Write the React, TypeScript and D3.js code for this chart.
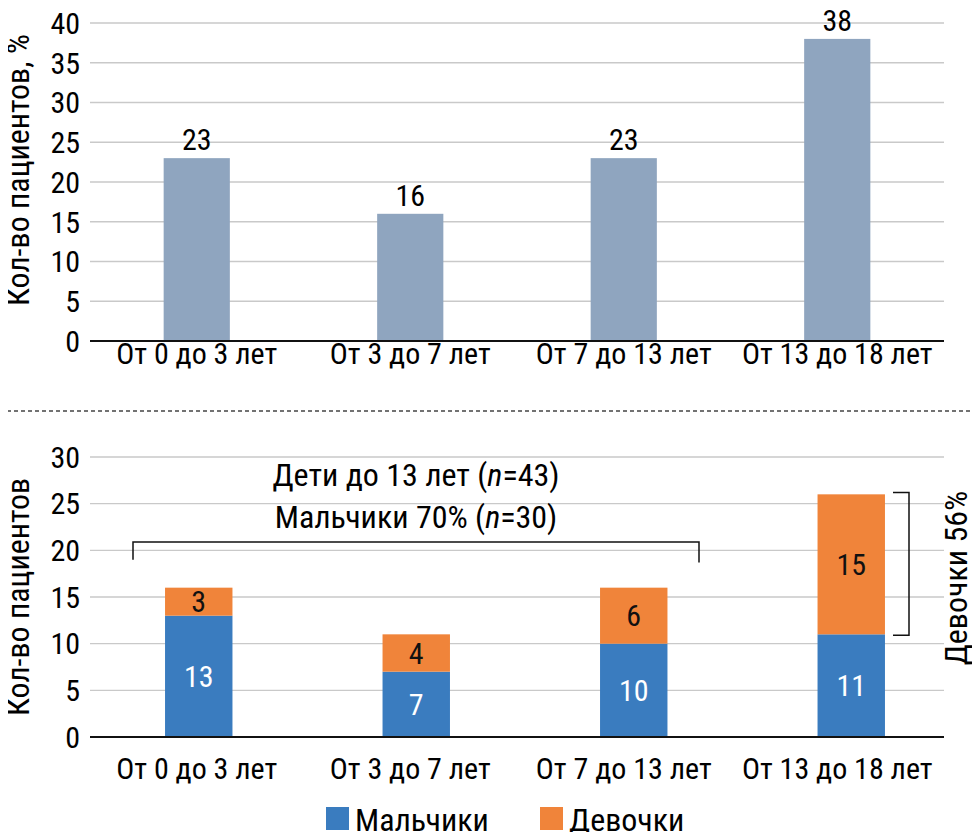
import * as d3 from "d3";

const categories = ["От 0 до 3 лет", "От 3 до 7 лет", "От 7 до 13 лет", "От 13 до 18 лет"];
const sharePercent = [23, 16, 23, 38];
const boys = [13, 7, 10, 11];
const girls = [3, 4, 6, 15];
const topTicks = [0, 5, 10, 15, 20, 25, 30, 35, 40];
const bottomTicks = [0, 5, 10, 15, 20, 25, 30];
const legendLabels = ["Мальчики", "Девочки"];

const W = 980;
const H = 840;
const FONT = '"Roboto Condensed", "Liberation Sans Narrow", "DejaVu Sans Condensed", "Noto Sans", sans-serif';
const GREY_BAR = "#8fa5bf";
const BLUE = "#3a7cbf";
const ORANGE = "#f0843a";
const GRID = "#c9c9c9";

const PLOT_L = 90;
const PLOT_R = 944;

// top panel
const yTop = d3.scaleLinear().domain([0, 40]).range([341, 23]);
const xTop = d3.scaleBand<string>().domain(categories).range([PLOT_L, PLOT_R]).paddingInner(0.69).paddingOuter(0.345);
const xTopLabel = d3.scaleBand<string>().domain(categories).range([PLOT_L, PLOT_R]);

// bottom panel (bars sit slightly right of the category labels in the original)
const yBot = d3.scaleLinear().domain([0, 30]).range([737, 457]);
const xBot = d3.scaleBand<string>().domain(categories).range([PLOT_L, 960]).paddingInner(0.69).paddingOuter(0.345);

const stacked = d3.stack<number>().keys(["boys", "girls"]).value((i, k) => (k === "boys" ? boys[i] : girls[i]))(
  categories.map((_, i) => i),
);

export default function App() {
  const fs = 30;
  const fa = 32;
  return (
    <svg width={W} height={H} viewBox={`0 0 ${W} ${H}`} style={{ display: "block", margin: "-8px", fontFamily: FONT, fontStretch: "condensed" }}>
      <rect width={W} height={H} fill="#fff" />

      {/* ---- top chart ---- */}
      {topTicks.map((t) => (
        <g key={`tt${t}`}>
          {t > 0 && <line x1={PLOT_L} x2={PLOT_R} y1={yTop(t)} y2={yTop(t)} stroke={GRID} strokeWidth={1.3} />}
          <text x={80} y={yTop(t)} dy="0.36em" textAnchor="end" fontSize={fs}>
            {t}
          </text>
        </g>
      ))}
      {categories.map((c, i) => (
        <g key={`tb${c}`}>
          <rect x={xTop(c)} y={yTop(sharePercent[i])} width={xTop.bandwidth()} height={yTop(0) - yTop(sharePercent[i])} fill={GREY_BAR} />
          <text x={xTop(c)! + xTop.bandwidth() / 2} y={yTop(sharePercent[i]) - 8} textAnchor="middle" fontSize={fs}>
            {sharePercent[i]}
          </text>
          <text x={xTopLabel(c)! + xTopLabel.bandwidth() / 2} y={364} textAnchor="middle" fontSize={fs}>
            {c}
          </text>
        </g>
      ))}
      <line x1={PLOT_L} x2={PLOT_R} y1={yTop(0)} y2={yTop(0)} stroke="#111" strokeWidth={2} />
      <text transform={`translate(29,${(yTop(0) + yTop(40)) / 2 - 12}) rotate(-90)`} textAnchor="middle" fontSize={fa}>
        Кол-во пациентов, %
      </text>

      {/* separator */}
      <line x1={0} x2={W} y1={411} y2={411} stroke="#444" strokeWidth={1.5} strokeDasharray="4 3" />

      {/* ---- bottom chart ---- */}
      {bottomTicks.map((t) => (
        <g key={`bt${t}`}>
          {t > 0 && <line x1={PLOT_L} x2={PLOT_R} y1={yBot(t)} y2={yBot(t)} stroke={GRID} strokeWidth={1.3} />}
          <text x={80} y={yBot(t)} dy="0.36em" textAnchor="end" fontSize={fs}>
            {t}
          </text>
        </g>
      ))}
      {stacked.map((layer, li) =>
        layer.map((d, i) => {
          const c = categories[i];
          const x = xBot(c)!;
          const y0 = yBot(d[0]);
          const y1 = yBot(d[1]);
          const v = d[1] - d[0];
          return (
            <g key={`s${li}${i}`}>
              <rect x={x} y={y1} width={xBot.bandwidth()} height={y0 - y1} fill={li === 0 ? BLUE : ORANGE} />
              <text
                x={x + xBot.bandwidth() / 2}
                y={(y0 + y1) / 2}
                dy="0.36em"
                textAnchor="middle"
                fontSize={fs}
                fill={li === 0 ? "#fff" : "#111"}
              >
                {v}
              </text>
            </g>
          );
        }),
      )}
      <line x1={PLOT_L} x2={PLOT_R} y1={yBot(0)} y2={yBot(0)} stroke="#111" strokeWidth={2} />
      {categories.map((c) => (
        <text key={`bl${c}`} x={xTopLabel(c)! + xTopLabel.bandwidth() / 2} y={779} textAnchor="middle" fontSize={fs}>
          {c}
        </text>
      ))}
      <text transform={`translate(29,${(yBot(0) + yBot(30)) / 2}) rotate(-90)`} textAnchor="middle" fontSize={fa}>
        Кол-во пациентов
      </text>

      {/* bracket over children under 13 */}
      <path d={`M133,${yBot(19)}V${yBot(20.9)}H699V${yBot(18.7)}`} fill="none" stroke="#111" strokeWidth={1.5} />
      <text x={416} y={486} textAnchor="middle" fontSize={fa}>
        Дети до 13 лет (<tspan fontStyle="italic">n</tspan>=43)
      </text>
      <text x={416} y={528} textAnchor="middle" fontSize={fa}>
        Мальчики 70% (<tspan fontStyle="italic">n</tspan>=30)
      </text>

      {/* girls bracket on the right */}
      <path d={`M893,${yBot(26.2)}H909V${yBot(10.9)}H893`} fill="none" stroke="#111" strokeWidth={1.5} />
      <text transform={`translate(967,${578}) rotate(-90)`} textAnchor="middle" fontSize={fa}>
        Девочки 56%
      </text>

      {/* legend */}
      {legendLabels.map((l, i) => {
        const x = i === 0 ? 326 : 540;
        return (
          <g key={l}>
            <rect x={x} y={807} width={23} height={23} fill={i === 0 ? BLUE : ORANGE} />
            <text x={x + 29} y={831} fontSize={fa}>
              {l}
            </text>
          </g>
        );
      })}
    </svg>
  );
}
